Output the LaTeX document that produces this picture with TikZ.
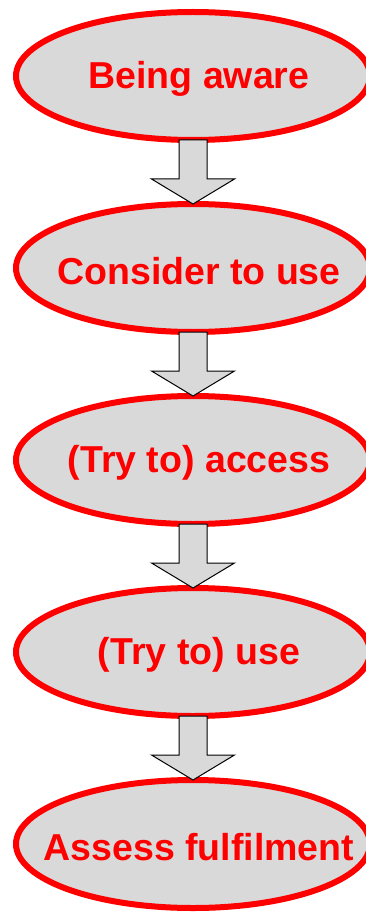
\documentclass[tikz,border=0pt]{standalone}
\usepackage{fontspec}
\setsansfont{Liberation Sans}
\usetikzlibrary{shapes.geometric, positioning}

\definecolor{stagegray}{RGB}{217,217,217}

\begin{document}
\begin{tikzpicture}[x=1pt, y=1pt, node distance=64pt,
        stage/.style={ellipse, draw=red, line width=6pt, fill=stagegray,
            minimum width=354pt, minimum height=128pt, inner sep=0pt, outer sep=0pt,
            label={[stagetext]center:#1}},
        stagetext/.style={text=red, xshift=6pt, yshift=-3pt,
            font=\sffamily\bfseries\fontsize{37.5}{42}\selectfont},
        downarrow/.style={draw=black, line width=1pt, fill=stagegray, line join=miter}]
        \useasboundingbox (0,0) rectangle (366,-912);
        \clip (0,0) rectangle (366,-912);
        % Stages of use
        \node[stage={Being aware}] (aware) at (193,-76) {};
        \node[stage={Consider to use}, below=of aware] (consider) {};
        \node[stage={(Try to) access}, below=of consider] (access) {};
        \node[stage={(Try to) use}, below=of access] (tryuse) {};
        \node[stage={Assess fulfilment}, below=of tryuse] (assess) {};
        % Block arrows between the stages
        \foreach \a/\b in {aware/consider, consider/access, access/tryuse, tryuse/assess}
            \draw[downarrow] ([xshift=-14pt]\a.south) -- ([xshift=14pt]\a.south)
                -- ([xshift=14pt, yshift=25pt]\b.north) -- ([xshift=41.5pt, yshift=25pt]\b.north)
                -- (\b.north) -- ([xshift=-41.5pt, yshift=25pt]\b.north)
                -- ([xshift=-14pt, yshift=25pt]\b.north) -- cycle;
\end{tikzpicture}
\end{document}
